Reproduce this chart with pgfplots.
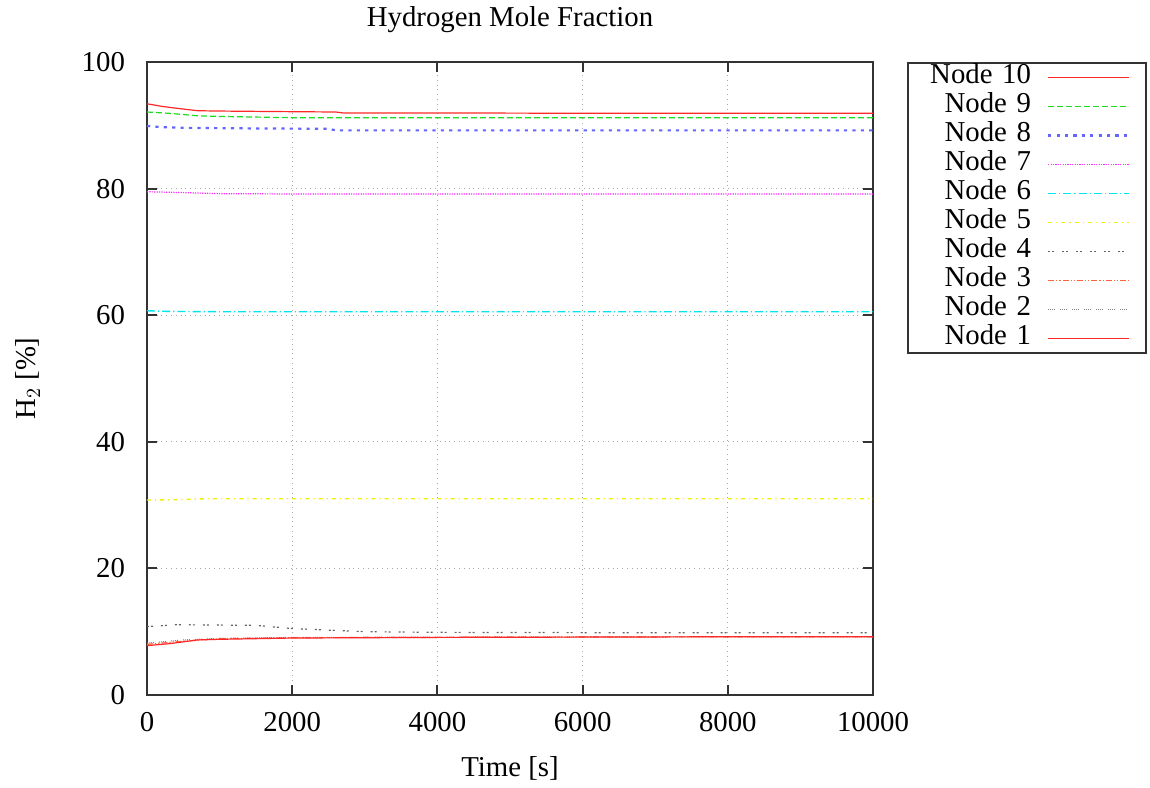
\documentclass[border=0pt]{standalone}
\usepackage{fontspec}
\setmainfont{Liberation Serif}
\usepackage{pgfplots}
\pgfplotsset{compat=1.18}

\definecolor{cRed}{RGB}{255,40,40}
\definecolor{cGreen}{RGB}{30,220,30}
\definecolor{cBlue}{RGB}{100,100,255}
\definecolor{cMag}{RGB}{255,40,255}
\definecolor{cCyan}{RGB}{0,230,240}
\definecolor{cYel}{RGB}{240,240,0}
\definecolor{cGrayA}{RGB}{100,100,100}
\definecolor{cOrange}{RGB}{255,100,60}
\definecolor{cGrayB}{RGB}{130,130,130}

\newcommand{\chartfont}{\fontsize{14.4}{17}\selectfont}

\begin{document}
\begin{tikzpicture}
\useasboundingbox (0,0) rectangle (575pt,393.5pt);
\begin{axis}[
  at={(73.5pt,46pt)}, anchor=south west,
  scale only axis, width=363pt, height=316.5pt,
  xmin=0, xmax=10000, ymin=0, ymax=100,
  xtick={0,2000,...,10000}, ytick={0,20,...,100},
  scaled x ticks=false,
  /pgf/number format/1000 sep={},
  /pgf/number format/assume math mode=true,
  tick align=inside, major tick length=5pt,
  tick style={black!80, line width=1pt},
  axis line style={black!80, line width=1pt},
  grid=major, grid style={gray!70, dotted, line width=0.6pt},
  tick label style={font=\chartfont},
  xticklabel style={anchor=center, yshift=-13.5pt},
  yticklabel style={anchor=east, xshift=-7.5pt},
  title={Hydrogen Mole Fraction},
  every axis title/.style={at={(rel axis cs:0.5,1)}, anchor=center,
    yshift=21pt, font=\chartfont},
  xlabel={Time [s]},
  every axis x label/.style={at={(rel axis cs:0.5,0)}, anchor=center,
    yshift=-36.5pt, font=\chartfont},
  ylabel={H$_2$ [\%]},
  every axis y label/.style={at={(rel axis cs:0,0.5)}, rotate=90,
    anchor=center, yshift=59.5pt, font=\chartfont},
  legend plot pos=right,
  legend cell align=right,
  legend image code/.code={\draw[#1] (0pt,0pt) -- (40.5pt,0pt);},
  legend style={at={(rel axis cs:1,1)}, anchor=north west, xshift=17pt,
    draw=black!80, line width=1pt, inner xsep=8pt, inner ysep=0pt,
    row sep=0pt, /tikz/column sep=8pt,
    nodes={inner sep=0pt, text width=53.5pt, align=right,
      text height=10.2pt, text depth=4.3pt, font=\chartfont}},
]
% Node 10
\addplot[draw=cRed, line width=0.6pt] coordinates {
  (0,93.4) (200,93.0) (400,92.7) (700,92.3) (1000,92.25) (1500,92.2)
  (2000,92.15) (2600,92.1) (2700,91.95) (4000,91.95) (6000,91.9) (8000,91.9) (10000,91.9)};
\addlegendentry{Node 10}
% Node 9
\addplot[draw=cGreen, line width=0.6pt, dash pattern=on 3pt off 1.5pt] coordinates {
  (0,92.1) (300,91.9) (700,91.5) (1000,91.4) (1500,91.3) (2000,91.2)
  (4000,91.2) (6000,91.2) (8000,91.2) (10000,91.2)};
\addlegendentry{Node 9}
% Node 8
\addplot[draw=cBlue, line width=1.1pt, dash pattern=on 1.6pt off 2.6pt] coordinates {
  (0,89.9) (200,89.7) (500,89.6) (1500,89.5) (2500,89.45) (2600,89.2)
  (4000,89.2) (6000,89.2) (8000,89.2) (10000,89.2)};
\addlegendentry{Node 8}
% Node 7
\addplot[draw=cMag, line width=0.6pt, dash pattern=on 0.6pt off 0.6pt] coordinates {
  (0,79.5) (400,79.4) (1000,79.2) (2000,79.15) (4000,79.15) (6000,79.15) (8000,79.15) (10000,79.15)};
\addlegendentry{Node 7}
% Node 6
\addplot[draw=cCyan, line width=0.7pt, dash pattern=on 4pt off 1.5pt on 0.6pt off 1.5pt] coordinates {
  (0,60.7) (300,60.6) (1000,60.55) (4000,60.55) (6000,60.55) (8000,60.55) (10000,60.55)};
\addlegendentry{Node 6}
% Node 5
\addplot[draw=cYel, line width=0.7pt, dash pattern=on 2pt off 2pt on 0.6pt off 2pt] coordinates {
  (0,30.8) (400,30.85) (800,31.0) (2000,31.0) (4000,31.0) (6000,31.0) (8000,31.0) (10000,31.0)};
\addlegendentry{Node 5}
% Node 4
\addplot[draw=cGrayA, line width=0.6pt, dash pattern=on 1pt off 1pt on 1pt off 4pt] coordinates {
  (0,10.8) (400,11.1) (1500,11.0) (2000,10.5) (3000,10.0) (4000,9.9)
  (6000,9.85) (8000,9.85) (10000,9.85)};
\addlegendentry{Node 4}
% Node 3
\addplot[draw=cOrange, line width=0.6pt, dash pattern=on 3pt off 1pt on 0.6pt off 1pt on 0.6pt off 1pt] coordinates {
  (0,8.0) (500,8.5) (1000,8.9) (2000,9.05) (4000,9.1) (6000,9.15) (8000,9.2) (10000,9.2)};
\addlegendentry{Node 3}
% Node 2
\addplot[draw=cGrayB, line width=0.5pt, dash pattern=on 0.5pt off 0.5pt on 0.5pt off 0.5pt on 0.5pt off 0.5pt on 0.5pt off 2.5pt] coordinates {
  (0,8.2) (500,8.7) (1000,8.95) (2000,9.1) (4000,9.15) (6000,9.2) (8000,9.2) (10000,9.2)};
\addlegendentry{Node 2}
% Node 1
\addplot[draw=cRed, line width=0.6pt] coordinates {
  (0,7.8) (300,8.1) (700,8.7) (1000,8.8) (2000,9.0) (4000,9.1) (6000,9.15) (8000,9.2) (10000,9.2)};
\addlegendentry{Node 1}
\end{axis}
\end{tikzpicture}
\end{document}
